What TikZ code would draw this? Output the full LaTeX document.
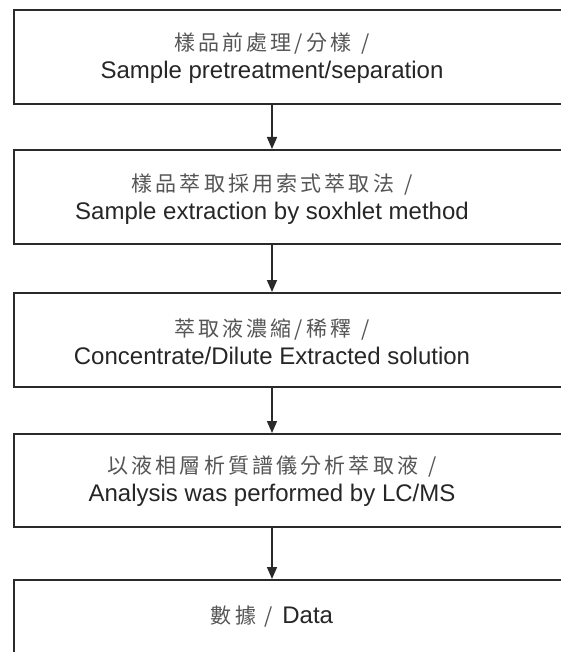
\documentclass[tikz,border=0pt]{standalone}
\usepackage{fontspec}
\setmainfont{Liberation Sans}
\newfontfamily\cjk[LetterSpace=15]{Noto Sans CJK TC}
\usetikzlibrary{arrows.meta}
\definecolor{linecol}{HTML}{2A2A2A}
\definecolor{zhcol}{HTML}{555555}
\definecolor{encol}{HTML}{262626}
\tikzset{
  stepbox/.style={draw=linecol, line width=2pt, fill=none, inner sep=0pt},
  label/.style={align=center, inner sep=0pt, text=encol,
    font=\fontsize{24}{30}\selectfont},
  arr/.style={draw=linecol, line width=1.6pt,
    -{Triangle[length=12pt,width=10pt]}}
}
\newcommand{\zh}[1]{{\cjk\fontsize{21}{30}\selectfont\color{zhcol}#1}}
\begin{document}
\begin{tikzpicture}[x=1pt,y=-1pt]
\useasboundingbox (0,0) rectangle (561,652);
\fill[white] (0,0) rectangle (561,652);
\clip (0,0) rectangle (561,652);

\node[stepbox, minimum width=586pt, minimum height=94pt] (b1) at (307,57) {};
\node[stepbox, minimum width=586pt, minimum height=94pt] (b2) at (307,197) {};
\node[stepbox, minimum width=586pt, minimum height=94pt] (b3) at (307,340) {};
\node[stepbox, minimum width=586pt, minimum height=93pt] (b4) at (307,480.5) {};
\node[stepbox, minimum width=586pt, minimum height=140pt] (b5) at (307,650) {};

\node[label] (t1) at (272,58) {\zh{樣品前處理/分樣\hspace{10pt}/}\\[-2pt] Sample pretreatment/separation};
\node[label] (t2) at (272,199) {\zh{樣品萃取採用索式萃取法\hspace{10pt}/}\\[-2pt] Sample extraction by soxhlet method};
\node[label] (t3) at (272,342) {\zh{萃取液濃縮/稀釋\hspace{10pt}/}\\[-2pt] Concentrate/Dilute Extracted solution};
\node[label] (t4) at (272,481) {\zh{以液相層析質譜儀分析萃取液\hspace{10pt}/}\\[-2pt] Analysis was performed by LC/MS};
\node[label, anchor=center] (t5) at (272,617) {\zh{數據\hspace{8pt}/}\hspace{10pt}Data};

\draw[arr] (t1 |- b1.south) -- (t1 |- b2.north);
\draw[arr] (t2 |- b2.south) -- (t2 |- b3.north);
\draw[arr] (t3 |- b3.south) -- (t3 |- b4.north);
\draw[arr] (t4 |- b4.south) -- (t4 |- b5.north);
\end{tikzpicture}
\end{document}
